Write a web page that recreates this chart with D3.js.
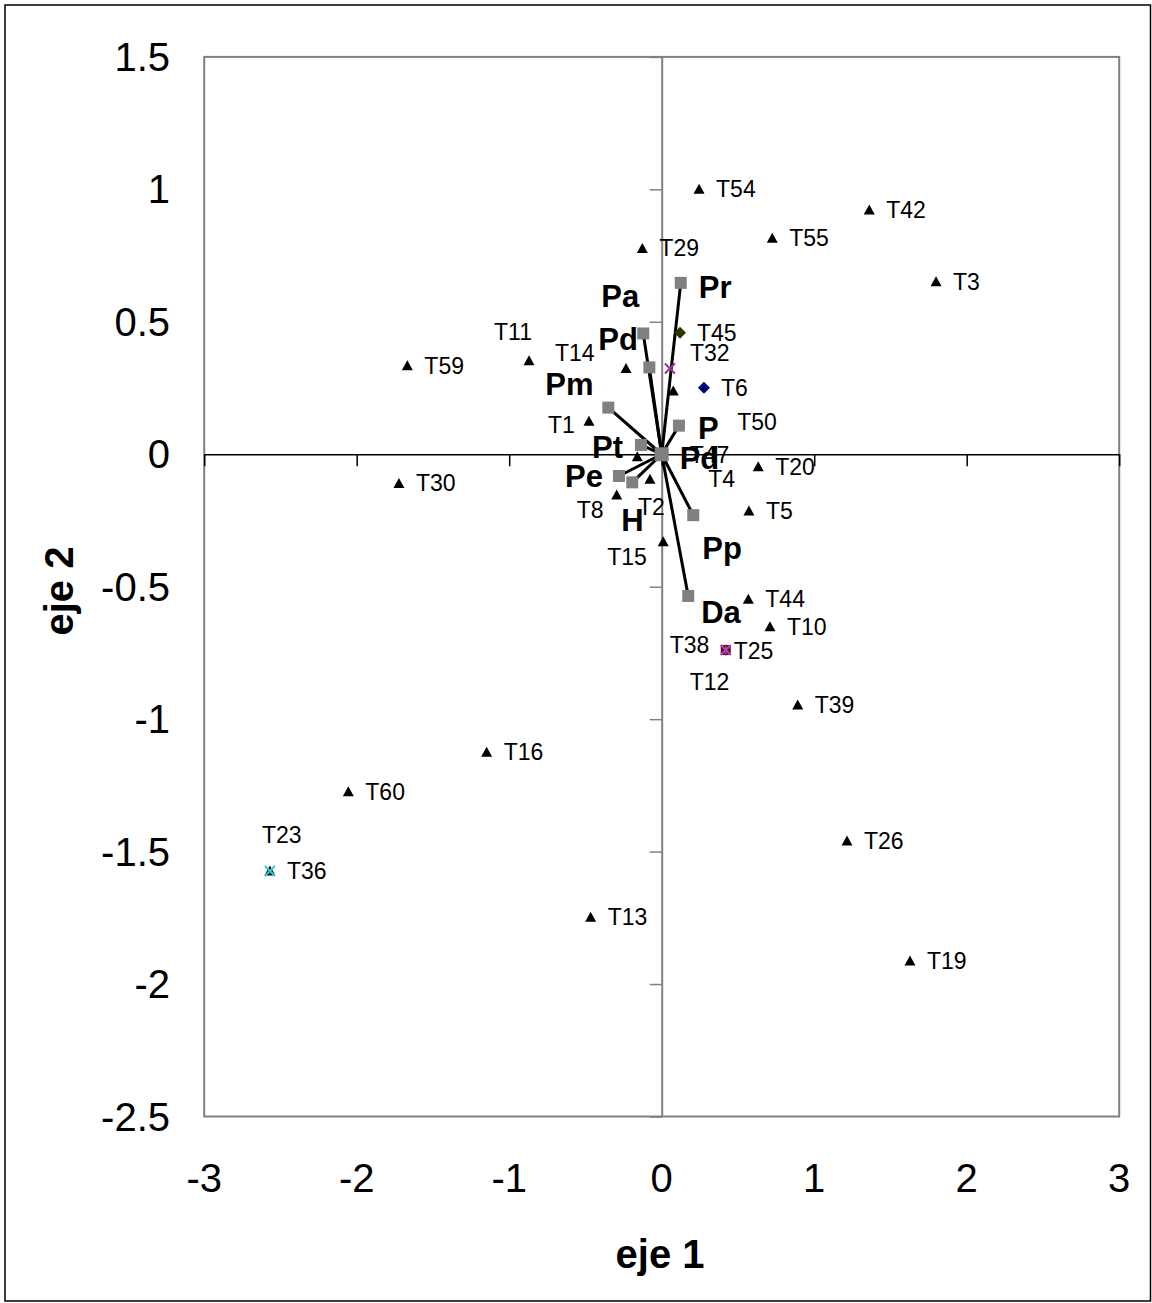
<!DOCTYPE html>
<html>
<head>
<meta charset="utf-8">
<script src="https://cdn.jsdelivr.net/npm/d3@7/dist/d3.min.js"></script>
<style>
  html, body { margin: 0; padding: 0; background: #fff; }
  svg { display: block; font-family: "Liberation Sans", Arial, Helvetica, sans-serif; }
</style>
</head>
<body>
<svg id="chart" width="1152" height="1303"></svg>
<script>
// ---------- DATA ----------
const xTicks = [-3, -2, -1, 0, 1, 2, 3];
const xTickLabels = ["-3", "-2", "-1", "0", "1", "2", "3"];
const yTicks = [1.5, 1, 0.5, 0, -0.5, -1, -1.5, -2, -2.5];
const yTickLabels = ["1.5", "1", "0.5", "0", "-0.5", "-1", "-1.5", "-2", "-2.5"];

// treatments drawn as black triangles
const triNames = ["T54","T42","T55","T29","T3","T59","T11","T14","T1","T50","T4","T47","T2","T8","T15",
                  "T20","T5","T30","T44","T10","T39","T16","T60","T36","T13","T26","T19"];
const triX = [0.245, 1.361, 0.725, -0.127, 1.799, -1.668, -0.870, -0.234, -0.477, 0.076, -0.160, 0.000, -0.077, -0.295, 0.010,
              0.633, 0.572, -1.723, 0.568, 0.710, 0.892, -1.148, -2.055, -2.569, -0.466, 1.215, 1.628];
const triY = [1.000, 0.922, 0.815, 0.777, 0.651, 0.334, 0.353, 0.324, 0.125, 0.239, -0.009, 0.000, -0.094, -0.154, -0.330,
              -0.047, -0.214, -0.110, -0.547, -0.651, -0.947, -1.125, -1.274, -1.573, -1.748, -1.460, -1.913];

// treatments drawn with their own markers
const otherNames = ["T45", "T6", "T32", "T38", "T12", "T25", "T23"];
const otherX = [0.120, 0.277, 0.054, 0.420, 0.420, 0.420, -2.569];
const otherY = [0.459, 0.251, 0.324, -0.739, -0.739, -0.739, -1.573];
const otherMarker = ["diamond", "diamond", "x", "square", "x", "star", "x"];
const otherColor = ["#333300", "#000080", "#993399", "#800000", "#cc33cc", "#6666cc", "#33cccc"];

// variables (vectors from origin, grey squares)
const varNames = ["Pr", "Pa", "Pd", "Pm", "P", "Pt", "Pd", "Pe", "H", "Pp", "Da"];
const varX = [0.125, -0.121, -0.081, -0.350, 0.113, -0.136, 0.000, -0.280, -0.193, 0.207, 0.174];
const varY = [0.647, 0.456, 0.328, 0.176, 0.108, 0.035, 0.000, -0.082, -0.106, -0.230, -0.535];

// ---------- LAYOUT (label placement, pixels) ----------
const triLabelDefault = { dx: 17, dy: 8 };
const triLabelNudge = {
  T11: { dx: -35, dy: -21 }, T14: { dx: -71, dy: -7 }, T1: { dx: -41, dy: 12 },
  T50: { dx: 64, dy: 39 }, T4: { dx: 71, dy: 30 }, T47: { dx: 28, dy: 9 },
  T2: { dx: -12, dy: 36 }, T8: { dx: -40, dy: 23 }, T15: { dx: -56, dy: 23 },
  T32: { dx: 20, dy: -7 }, T25: { dx: 8, dy: 9 }, T38: { dx: -56, dy: 3 },
  T12: { dx: -36, dy: 40 }, T23: { dx: -8, dy: -28 }
};
const varLabelOffsets = [
  { dx: 18, dy: 15 }, { dx: -42, dy: -26 }, { dx: -51, dy: -17 }, { dx: -63, dy: -13 },
  { dx: 19, dy: 13 }, { dx: -49, dy: 13 }, { dx: 18, dy: 15 }, { dx: -54, dy: 11 },
  { dx: -11, dy: 49 }, { dx: 9, dy: 44 }, { dx: 13, dy: 27 }
];

// ---------- CHART ----------
const svg = d3.select("#chart");
const plot = { left: 204.2, right: 1119.2, top: 56.9, bottom: 1116.5 };
const x = d3.scaleLinear().domain([-3, 3]).range([plot.left, plot.right]);
const y = d3.scaleLinear().domain([-2.5, 1.5]).range([plot.bottom, plot.top]);

// outer frame
svg.append("rect").attr("x", 5).attr("y", 5).attr("width", 1145.5).attr("height", 1296)
  .attr("fill", "none").attr("stroke", "#000").attr("stroke-width", 1.5);

// plot border
svg.append("rect").attr("x", plot.left).attr("y", plot.top)
  .attr("width", plot.right - plot.left).attr("height", plot.bottom - plot.top)
  .attr("fill", "#fff").attr("stroke", "#808080").attr("stroke-width", 2);

// vertical axis (grey) at x=0
const yAxis = svg.append("g").attr("transform", `translate(${x(0)},0)`)
  .call(d3.axisLeft(y).tickValues(yTicks).tickSize(12).tickSizeOuter(0).tickFormat(""));
yAxis.select(".domain").attr("stroke", "#808080").attr("stroke-width", 2);
yAxis.selectAll(".tick line").attr("stroke", "#808080").attr("stroke-width", 1.5);

// horizontal axis (black) at y=0
const xAxis = svg.append("g").attr("transform", `translate(0,${y(0)})`)
  .call(d3.axisBottom(x).tickValues(xTicks).tickSize(12).tickSizeOuter(0).tickFormat(""));
xAxis.select(".domain").attr("stroke", "#000").attr("stroke-width", 1.5);
xAxis.selectAll(".tick line").attr("stroke", "#000").attr("stroke-width", 1.5);

// tick labels
svg.append("g").selectAll("text").data(xTicks).join("text")
  .attr("x", d => x(d)).attr("y", 1192)
  .attr("text-anchor", "middle").attr("font-size", 40).attr("fill", "#000")
  .text((d, i) => xTickLabels[i]);
svg.append("g").selectAll("text").data(yTicks).join("text")
  .attr("x", 170).attr("y", d => y(d) + 14)
  .attr("text-anchor", "end").attr("font-size", 40).attr("fill", "#000")
  .text((d, i) => yTickLabels[i]);

// axis titles
svg.append("text").attr("x", 660).attr("y", 1268).attr("text-anchor", "middle")
  .attr("font-size", 40).attr("font-weight", "bold").text("eje 1");
svg.append("text").attr("transform", "translate(73,591) rotate(-90)").attr("text-anchor", "middle")
  .attr("font-size", 40).attr("font-weight", "bold").text("eje 2");

// vectors
const vars = varNames.map((n, i) => ({ name: n, x: varX[i], y: varY[i], i }));
svg.append("g").selectAll("line").data(vars).join("line")
  .attr("x1", x(0)).attr("y1", y(0))
  .attr("x2", d => x(d.x)).attr("y2", d => y(d.y))
  .attr("stroke", "#000").attr("stroke-width", 3);

// triangles
const tris = triNames.map((n, i) => ({ name: n, x: triX[i], y: triY[i] }));
const triPath = "M0,-5.5L5.5,4.5L-5.5,4.5Z";
svg.append("g").selectAll("path").data(tris).join("path")
  .attr("d", triPath)
  .attr("transform", d => `translate(${x(d.x)},${y(d.y)})`)
  .attr("fill", "#000");

// other markers
const others = otherNames.map((n, i) => ({ name: n, x: otherX[i], y: otherY[i], m: otherMarker[i], c: otherColor[i] }));
const og = svg.append("g");
others.forEach(d => {
  const g = og.append("g").attr("transform", `translate(${x(d.x)},${y(d.y)})`);
  if (d.m === "diamond") {
    g.append("path").attr("d", "M0,-6L6,0L0,6L-6,0Z").attr("fill", d.c);
  } else if (d.m === "square") {
    g.append("rect").attr("x", -5).attr("y", -5).attr("width", 10).attr("height", 10).attr("fill", d.c);
  } else if (d.m === "x") {
    g.append("path").attr("d", "M-5,-5L5,5M5,-5L-5,5").attr("stroke", d.c).attr("stroke-width", 2).attr("fill", "none");
  } else if (d.m === "star") {
    g.append("path").attr("d", "M-5,-5L5,5M5,-5L-5,5M0,-6L0,6").attr("stroke", d.c).attr("stroke-width", 1).attr("fill", "none");
  }
});

// squares on top of lines
svg.append("g").selectAll("rect").data(vars).join("rect")
  .attr("x", d => x(d.x) - (d.x === 0 && d.y === 0 ? 7 : 6))
  .attr("y", d => y(d.y) - (d.x === 0 && d.y === 0 ? 7 : 6))
  .attr("width", d => (d.x === 0 && d.y === 0 ? 14 : 12))
  .attr("height", d => (d.x === 0 && d.y === 0 ? 14 : 12))
  .attr("fill", "#808080");

// treatment labels
const allT = tris.concat(others);
svg.append("g").selectAll("text").data(allT).join("text")
  .attr("x", d => x(d.x) + (triLabelNudge[d.name] || triLabelDefault).dx)
  .attr("y", d => y(d.y) + (triLabelNudge[d.name] || triLabelDefault).dy)
  .attr("font-size", 23).attr("fill", "#000")
  .text(d => d.name);

// variable labels
svg.append("g").selectAll("text").data(vars).join("text")
  .attr("x", d => x(d.x) + varLabelOffsets[d.i].dx)
  .attr("y", d => y(d.y) + varLabelOffsets[d.i].dy)
  .attr("font-size", 31).attr("font-weight", "bold").attr("fill", "#000")
  .text(d => d.name);
</script>
</body>
</html>
